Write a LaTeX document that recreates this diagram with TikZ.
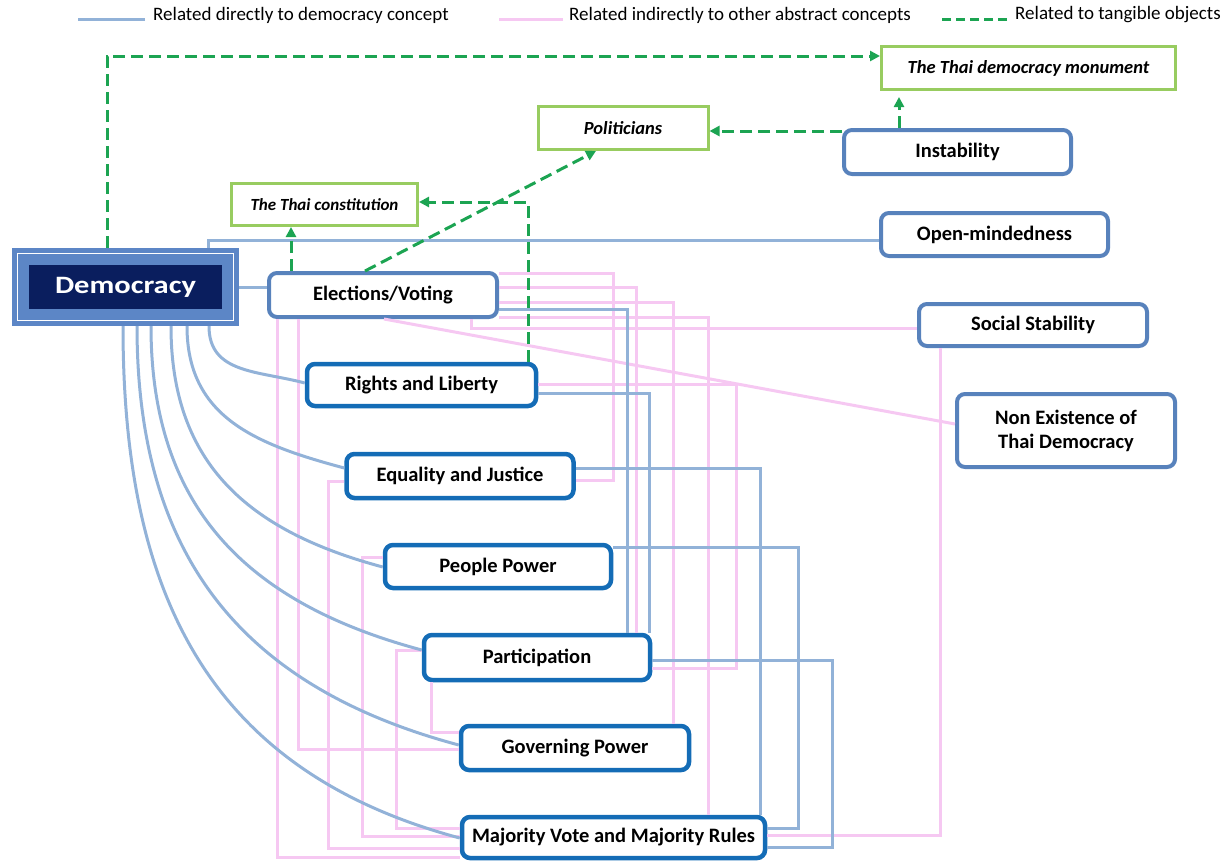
\documentclass[tikz,border=0pt]{standalone}
\usepackage{fontspec}
\setmainfont{Carlito}
\usetikzlibrary{arrows.meta}
\definecolor{coreblue}{RGB}{20,108,182}
\definecolor{sideblue}{RGB}{88,130,188}
\definecolor{objgreen}{RGB}{152,204,96}
\definecolor{dashgreen}{RGB}{28,164,82}
\definecolor{dirblue}{RGB}{146,178,216}
\definecolor{indpink}{RGB}{246,200,242}
\definecolor{demonavy}{RGB}{10,30,94}
\definecolor{demoband}{RGB}{92,134,198}
\begin{document}
\begin{tikzpicture}[x=1pt, y=-1pt,
        conceptbox/.style={draw=#1, line width=4.5pt, rounded corners=8pt, fill=white, inner sep=0pt, font=\fontsize{20.5}{24}\selectfont\bfseries},
        corebox/.style={conceptbox=coreblue},
        sidebox/.style={conceptbox=sideblue, line width=4pt},
        objbox/.style={draw=objgreen, line width=3pt, fill=white, inner sep=0pt, font=\fontsize{18.5}{22}\selectfont\bfseries\itshape},
        dirline/.style={dirblue, line width=3pt},
        indline/.style={indpink, line width=3pt},
        objline/.style={dashgreen, line width=3pt, dash pattern=on 12pt off 6pt, -{Triangle[length=10pt,width=10pt]}},
        demoarc/.style={dirline, out=-90, in=165, looseness=1.1},
        legend/.style={anchor=west, inner sep=0pt, font=\fontsize{19}{22}\selectfont}]
        \useasboundingbox (0,0) rectangle (1223,862);

        % Legend
        \node[legend] (legdir) at (153,15) {Related directly to democracy concept};
        \node[legend] (legind) at (569,15) {Related indirectly to other abstract concepts};
        \node[legend] (legobj) at (1015,15) {Related to tangible objects};
        \draw[dirline] ([xshift=-8pt,yshift=-4pt]legdir.west) -- ++(-67,0);
        \draw[indline] ([xshift=-6pt,yshift=-4pt]legind.west) -- ++(-64,0);
        \draw[dashgreen, line width=3pt, dash pattern=on 9pt off 5pt] ([xshift=-8pt,yshift=-4pt]legobj.west) -- ++(-66,0);

        % Central concept
        \node[minimum width=227pt, minimum height=78pt, fill=demoband, text=white, inner sep=0pt,
            font=\fontsize{25}{28}\selectfont\bfseries,
            path picture={
                \draw[white, line width=1.5pt] ([shift={(5.5pt,-5.5pt)}]path picture bounding box.north west) rectangle ([shift={(-5.5pt,5.5pt)}]path picture bounding box.south east);
                \fill[demonavy] ([shift={(17pt,-17pt)}]path picture bounding box.north west) rectangle ([shift={(-17pt,17pt)}]path picture bounding box.south east);
            }] (demo) at (125.5,287) {\scalebox{1.22}[1]{Democracy}};

        % Concepts
        \node[sidebox, minimum width=228pt, minimum height=44pt] (elec) at (383,295) {Elections/Voting};
        \node[corebox, minimum width=229pt, minimum height=42pt] (rights) at (421.5,385) {Rights and Liberty};
        \node[corebox, minimum width=227pt, minimum height=44pt] (equal) at (460,476) {Equality and Justice};
        \node[corebox, minimum width=226pt, minimum height=43pt] (people) at (498,566.5) {People Power};
        \node[corebox, minimum width=226pt, minimum height=45pt] (partic) at (537,657.5) {Participation};
        \node[corebox, minimum width=228pt, minimum height=44pt] (govern) at (575,748) {Governing Power};
        \node[corebox, minimum width=303pt, minimum height=41pt] (major) at (613.5,837.5) {Majority Vote and Majority Rules};
        \node[sidebox, minimum width=227pt, minimum height=44pt] (instab) at (957.5,152) {Instability};
        \node[sidebox, minimum width=227pt, minimum height=43pt] (openm) at (994.5,234.5) {Open-mindedness};
        \node[sidebox, minimum width=228pt, minimum height=42pt] (social) at (1033,325) {Social Stability};
        \node[sidebox, minimum width=218pt, minimum height=73pt, align=center] (nonex) at (1066,430.5) {Non Existence of\\Thai Democracy};

        % Tangible objects
        \node[objbox, minimum width=294pt, minimum height=43pt] (monu) at (1028.5,68) {The Thai democracy monument};
        \node[objbox, minimum width=170pt, minimum height=43pt] (polit) at (623,128) {Politicians};
        \node[objbox, minimum width=186pt, minimum height=42pt, font=\fontsize{17}{20}\selectfont\bfseries\itshape] (constit) at (324.5,204.5) {The Thai constitution};

        % Indirect relations
        \draw[indline] (elec.east |- 0,273) -| (613,480) -- (equal.east |- 0,480);
        \draw[indline] (elec.east |- 0,287) -| (partic.north -| 636,0);
        \draw[indline] (elec.east |- 0,302) -| (govern.north -| 673,0);
        \draw[indline] (elec.east |- 0,317) -| (major.north -| 708,0);
        \draw[indline] (elec.south -| 471,0) |- (social.west |- 0,328);
        \draw[indline] (elec.south -| 384,0) -- (nonex.west |- 0,424);
        \draw[indline] (elec.south -| 277,0) |- (major.west |- 0,857);
        \draw[indline] (elec.south -| 298,0) |- (govern.west |- 0,749);
        \draw[indline] (rights.east |- 0,384) -| (736,668) -- (partic.east |- 0,668);
        \draw[indline] (equal.west |- 0,481) -| (328,848) -- (major.west |- 0,848);
        \draw[indline] (people.west |- 0,557) -| (362,836) -- (major.west |- 0,836);
        \draw[indline] (partic.west |- 0,650) -| (396,828) -- (major.west |- 0,828);
        \draw[indline] (partic.south -| 431,0) |- (govern.west |- 0,732);
        \draw[indline] (social.south -| 940,0) |- (major.east |- 0,835);

        % Direct relations
        \draw[dirline] (demo.north -| 208,0) |- (openm.west |- 0,240);
        \draw[dirline] (demo.east |- 0,287) -- (elec.west |- 0,287);
        \draw[dirline] (elec.east |- 0,309) -| (partic.north -| 627,0);
        \draw[dirline] (rights.east |- 0,393) -| (partic.north -| 649,0);
        \draw[dirline] (equal.east |- 0,468) -| (major.north -| 760,0);
        \draw[dirline] (people.east |- 0,547) -| (798,828) -- (major.east |- 0,828);
        \draw[dirline] (partic.east |- 0,660) -| (832,847) -- (major.east |- 0,847);
        \foreach \sx/\target/\ty in {209/rights/383, 187/equal/468, 171/people/567, 151/partic/650, 137/govern/745, 123/major/838}{
            \draw[demoarc] (demo.south -| \sx,0) to (\target.west |- 0,\ty);
        }

        % Tangible links
        \draw[objline] (demo.north -| 107,0) |- (monu.west |- 0,56);
        \draw[objline, shorten >=6pt] (instab.north -| 899,0) -- (monu.south -| 899,0);
        \draw[objline] (instab.west |- 0,131) -- (polit.east |- 0,131);
        \draw[objline] (elec.north -| 365,0) -- (polit.south -| 596,0);
        \draw[objline] (elec.north -| 291,0) -- (constit.south -| 291,0);
        \draw[objline] (rights.north -| 528,0) |- (constit.east |- 0,202);
    \end{tikzpicture}
\end{document}
